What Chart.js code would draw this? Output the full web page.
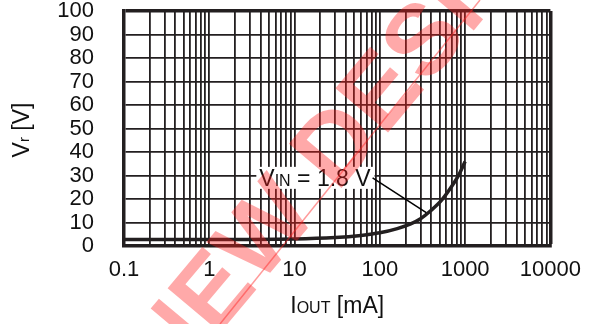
<!DOCTYPE html>
<html>
<head>
<meta charset="utf-8">
<script src="https://cdn.jsdelivr.net/npm/chart.js@4.4.0/dist/chart.umd.min.js"></script>
<style>
html, body { margin: 0; padding: 0; background: #fff; }
</style>
</head>
<body>
<canvas id="myChart" width="594" height="324"></canvas>
<script>
// data (I_OUT in mA, V_r in V)
var currentMA = [0.1, 1, 10, 30, 60, 100, 160, 230, 300, 400, 530, 700, 850, 1000];
var voltageV = [2.8, 2.8, 3.0, 3.6, 4.5, 5.6, 7.4, 9.4, 11.6, 15.2, 19.5, 25.5, 30.5, 36];
var xLabelValues = [0.1, 1, 10, 100, 1000, 10000];
var yTickValues = [0, 10, 20, 30, 40, 50, 60, 70, 80, 90, 100];
var curveLabelMain = 'V', curveLabelSub = 'IN', curveLabelRest = ' = 1.8 V';
// where the label box sits and where its pointer touches the curve (data units)
var labelAnchor = { x: 80, y: 29 };
var pointerEnd = { x: 350, y: 14.2 };
var watermarkText = 'NEW DESIGN';

var FONT = '"Liberation Sans", Arial, sans-serif';
var INK = '#231f20';

// every 1..9 x decade between 0.1 and 10000
function logGridTicks() {
    var out = [];
    for (var e = -1; e < 4; e++) {
        for (var m = 1; m < 10; m++) {
            out.push({ value: Number((m * Math.pow(10, e)).toPrecision(3)) });
        }
    }
    out.push({ value: 10000 });
    return out;
}

function drawSubText(ctx, x, y, parts) {
    var cx = x;
    parts.forEach(function (p) {
        ctx.font = p.size + 'px ' + FONT;
        ctx.fillText(p.t, cx, y);
        cx += ctx.measureText(p.t).width;
    });
    return cx - x;
}
function measureSubText(ctx, parts) {
    var w = 0;
    parts.forEach(function (p) {
        ctx.font = p.size + 'px ' + FONT;
        w += ctx.measureText(p.t).width;
    });
    return w;
}

var extras = {
    id: 'extras',
    afterDatasetsDraw: function (chart) {
        var ctx = chart.ctx;
        var xs = chart.scales.x, ys = chart.scales.y;
        var ax = xs.getPixelForValue(labelAnchor.x), ay = ys.getPixelForValue(labelAnchor.y);
        var px = xs.getPixelForValue(pointerEnd.x), py = ys.getPixelForValue(pointerEnd.y);
        var parts = [{ t: curveLabelMain, size: 23 }, { t: curveLabelSub, size: 16 }, { t: curveLabelRest, size: 23 }];
        ctx.save();
        var w = measureSubText(ctx, parts);
        ctx.fillStyle = '#fff';
        ctx.fillRect(ax - w - 4, ay - 11, w + 7, 22);
        ctx.strokeStyle = '#000';
        ctx.lineWidth = 1.5;
        ctx.beginPath();
        ctx.moveTo(ax + 1, ay);
        ctx.lineTo(px, py);
        ctx.stroke();
        ctx.fillStyle = '#111';
        ctx.textBaseline = 'alphabetic';
        drawSubText(ctx, ax - w - 1, ay + 8.5, parts);
        ctx.restore();
    },
    afterDraw: function (chart) {
        var ctx = chart.ctx;
        var area = chart.chartArea;
        ctx.save();
        ctx.fillStyle = '#111';
        ctx.textBaseline = 'alphabetic';
        // x axis title: I_OUT [mA]
        var xp = [{ t: 'I', size: 23 }, { t: 'OUT', size: 16 }, { t: ' [mA]', size: 23 }];
        var xw = measureSubText(ctx, xp);
        drawSubText(ctx, (area.left + area.right) / 2 - xw / 2, 313, xp);
        // y axis title: V_r [V]
        ctx.save();
        ctx.translate(29, 130);
        ctx.rotate(-Math.PI / 2);
        var yp = [{ t: 'V', size: 23 }, { t: 'r', size: 15 }, { t: ' [V]', size: 23 }];
        var yw = measureSubText(ctx, yp);
        drawSubText(ctx, -yw / 2, 0, yp);
        ctx.restore();

        // red watermark on top
        ctx.fillStyle = 'rgba(255, 30, 30, 0.38)';
        ctx.strokeStyle = 'rgba(255, 30, 30, 0.45)';
        ctx.lineWidth = 1.5;
        ctx.beginPath();
        ctx.moveTo(220, 324);
        ctx.lineTo(480, 0);
        ctx.stroke();
        ctx.translate(203, 297);
        ctx.rotate(-50 * Math.PI / 180);
        ctx.font = 'bold 100px ' + FONT;
        ctx.textAlign = 'left';
        ctx.fillText(watermarkText, -95, 36);
        ctx.restore();
    }
};

var ctx = document.getElementById('myChart').getContext('2d');
var myChart = new Chart(ctx, {
    type: 'scatter',
    data: {
        datasets: [{
            data: currentMA.map(function (x, i) { return { x: x, y: voltageV[i] }; }),
            showLine: true,
            borderColor: INK,
            borderWidth: 3.5,
            pointRadius: 0,
            cubicInterpolationMode: 'monotone',
            fill: false
        }]
    },
    options: {
        responsive: false,
        animation: false,
        devicePixelRatio: 1,
        layout: { padding: { left: 0, top: 11, right: 43, bottom: 0 } },
        plugins: { legend: { display: false }, tooltip: { enabled: false } },
        scales: {
            x: {
                type: 'logarithmic',
                min: 0.1,
                max: 10000,
                afterBuildTicks: function (scale) { scale.ticks = logGridTicks(); },
                afterFit: function (scale) { scale.height = 78; },
                ticks: {
                    autoSkip: false,
                    maxRotation: 0,
                    padding: 13,
                    color: '#111',
                    font: { family: FONT, size: 22, lineHeight: 1 },
                    callback: function (value) {
                        return xLabelValues.indexOf(value) >= 0 ? String(value) : '';
                    }
                },
                grid: {
                    drawTicks: false,
                    color: INK,
                    lineWidth: function (c) { return c.tick && c.tick.value === 10000 ? 3.5 : 1.8; }
                },
                border: { color: INK, width: 3.5 }
            },
            y: {
                min: yTickValues[0],
                max: yTickValues[yTickValues.length - 1],
                afterBuildTicks: function (scale) {
                    scale.ticks = yTickValues.map(function (v) { return { value: v }; });
                },
                afterFit: function (scale) {
                    scale.width = 124;
                    scale.paddingTop = 0;
                    scale.paddingBottom = 0;
                },
                ticks: {
                    autoSkip: false,
                    padding: 30,
                    color: '#111',
                    font: { family: FONT, size: 22, lineHeight: 1 }
                },
                grid: {
                    drawTicks: false,
                    color: INK,
                    lineWidth: function (c) { return c.tick && c.tick.value === 100 ? 3.5 : 1.8; }
                },
                border: { color: INK, width: 3.5 }
            }
        }
    },
    plugins: [extras]
});
</script>
</body>
</html>
